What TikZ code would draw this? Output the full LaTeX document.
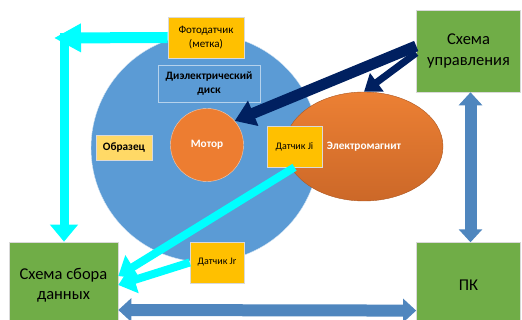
\documentclass[tikz,border=0pt]{standalone}
\usepackage{fontspec}
\setmainfont{Carlito}
\definecolor{diskBlue}{RGB}{91,155,213}
\definecolor{motorOrange}{RGB}{237,125,49}
\definecolor{magnetTop}{RGB}{236,128,52}
\definecolor{magnetBottom}{RGB}{204,104,40}
\definecolor{sensorYellow}{RGB}{255,192,0}
\definecolor{sampleYellow}{RGB}{255,217,102}
\definecolor{boxGreen}{RGB}{112,173,71}
\definecolor{ctrlNavy}{RGB}{0,32,96}
\definecolor{signalCyan}{RGB}{0,255,255}
\definecolor{busBlue}{RGB}{79,134,190}
\usetikzlibrary{arrows.meta, positioning, shapes.geometric, calc}

\begin{document}
\begin{tikzpicture}[
    x=1pt, y=-1pt,
    box/.style={
      rectangle, draw=gray!30, line width=0.6pt,
      inner sep=1pt, align=center
    },
    sensor/.style={box, fill=sensorYellow, font=\fontsize{10}{12.5}\selectfont},
    heavy/.style={font=\bfseries\fontsize{11.3}{14}\selectfont},
    unit/.style={box, fill=boxGreen, font=\fontsize{16.5}{20.5}\selectfont,
      minimum width=104pt, minimum height=86pt},
    signal/.style={line width=9pt, draw=signalCyan, -{Triangle[length=17pt, width=27pt]}},
    control/.style={line width=11pt, draw=ctrlNavy, -{Triangle[length=20pt, width=26pt]}},
    bus/.style={line width=12pt, draw=busBlue,
      {Triangle[length=13pt, width=23pt]}-{Triangle[length=13pt, width=23pt]}},
  ]
    \useasboundingbox (0,0) rectangle (522,320);

    % Disk with motor
    \node[circle, fill=diskBlue, draw=white!75!diskBlue, minimum size=228pt] (disk) at (205,148) {};
    \node[box, heavy, draw=white!55!diskBlue, minimum width=102pt, minimum height=37pt]
      (dielec) at (209,84) {Диэлектрический\\диск};
    \node[circle, heavy, fill=motorOrange, draw=white!60!motorOrange, minimum size=73pt,
      text=white] (motor) at (207,145) {Мотор};
    \node[box, heavy, fill=sampleYellow, minimum width=56pt, minimum height=25pt]
      (sample) at (124,147.5) {Образец};
    \node[sensor, minimum width=76pt, minimum height=41pt, font=\fontsize{11}{14}\selectfont]
      (photo) at (206,37.5) {Фотодатчик\\(метка)};

    % Electromagnet
    \node[ellipse, heavy, minimum width=158pt, minimum height=109pt,
      top color=magnetTop, bottom color=magnetBottom, draw=magnetBottom!85!black,
      text=white] (magnet) at (364,146.5) {Электромагнит};
    \node[sensor, minimum width=55pt, minimum height=41pt] (sensorJi) at (294.5,146.5) {Датчик Ji};
    \node[sensor, minimum width=54pt, minimum height=41pt] (sensorJr) at (217,262.5) {Датчик Jr};

    % Control, acquisition, PC
    \node[unit, minimum height=82pt] (ctrl) at (468.5,51) {Схема\\управления};
    \node[unit, below=150pt of ctrl] (pc) {ПК};
    \node[unit, minimum width=109pt] (daq) at (63.5,285) {Схема сбора\\данных};

    % Signal lines
    \coordinate (turnL) at (54,38);
    \coordinate (turnD) at (64,33);
    \draw[signal] (turnD) -- (daq.north -| turnD);
    \draw[signal, line width=11pt, -{Triangle[length=27pt, width=27pt]}] (photo.west) -- (turnL);
    \draw[signal, line width=8pt] (sensorJi.south) -- ($(daq.east)+(0,-9)$);
    \draw[signal, line width=8pt] (sensorJr.west) -- (daq.east);

    % Control lines
    \draw[control] ([yshift=5pt]ctrl.west) -- (motor.41);
    \draw[control, line width=7pt, -{Triangle[length=16pt, width=22pt]}]
      ([yshift=-2pt]ctrl.west) -- (magnet.north);

    % Data bus
    \draw[bus] ([xshift=2pt]ctrl.south) -- ([xshift=2pt]pc.north);
    \draw[bus] ([yshift=-25pt]daq.east) -- ([yshift=-25pt]pc.west);
  \end{tikzpicture}
\end{document}
